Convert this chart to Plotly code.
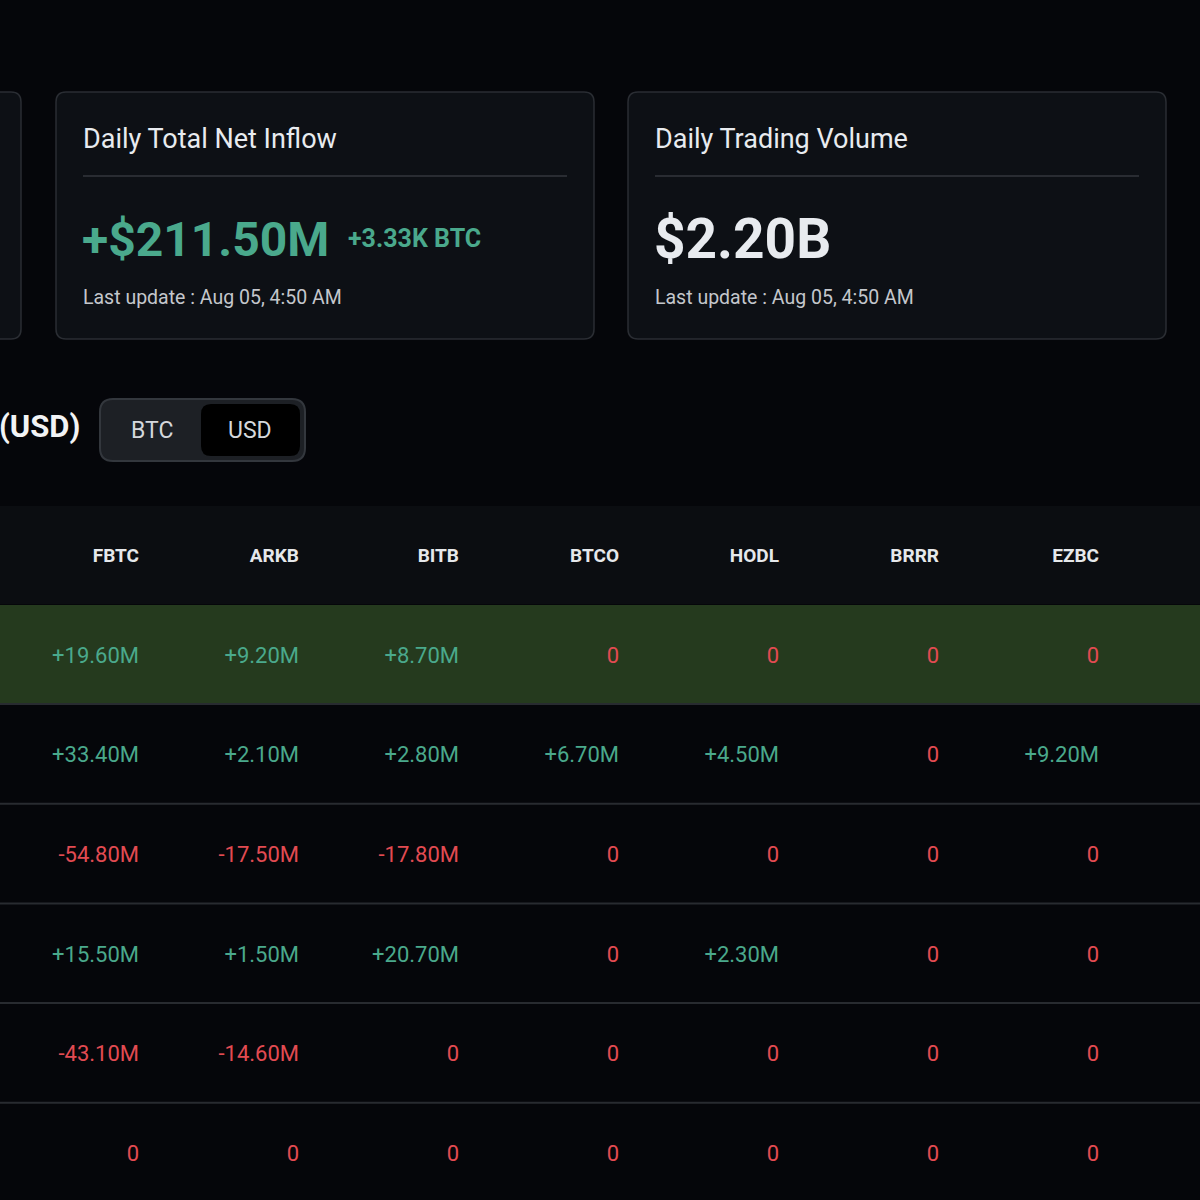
import plotly.graph_objects as go

# ETF flow table (USD, millions) - one list per fund, rows top to bottom
ETFS = ["FBTC", "ARKB", "BITB", "BTCO", "HODL", "BRRR", "EZBC"]
FBTC = [19.6, 33.4, -54.8, 15.5, -43.1, 0]
ARKB = [9.2, 2.1, -17.5, 1.5, -14.6, 0]
BITB = [8.7, 2.8, -17.8, 20.7, 0, 0]
BTCO = [0, 6.7, 0, 0, 0, 0]
HODL = [0, 4.5, 0, 2.3, 0, 0]
BRRR = [0, 0, 0, 0, 0, 0]
EZBC = [0, 9.2, 0, 0, 0, 0]
COLUMNS = [FBTC, ARKB, BITB, BTCO, HODL, BRRR, EZBC]

# summary cards
CARD_TITLES = ["Daily Total Net Inflow", "Daily Trading Volume"]
CARD_VALUES = ["+$211.50M", "$2.20B"]
CARD_SUB = ["+3.33K BTC", ""]
LAST_UPDATE = "Last update : Aug 05, 4:50 AM"

UNITS = ["BTC", "USD"]

BG = "#05060a"
CARD_BG = "#0d1015"
CARD_LINE = "#2a2d33"
GREEN = "#4aa98c"
RED = "#e24b52"
WHITE = "#e8ebef"
GREY = "#c4c7cc"
FONT = "Roboto, sans-serif"

W = H = 1200


def px(x):
    return x / W


def py(y):
    return 1 - y / H


def rr(x0, y0, x1, y1, r):
    # rounded rectangle path in paper coords, inputs in pixels
    a, b, c, d = px(x0), py(y0), px(x1), py(y1)
    rx, ry = r / W, r / H
    return (f"M {a+rx},{b} L {c-rx},{b} Q {c},{b} {c},{b-ry} "
            f"L {c},{d+ry} Q {c},{d} {c-rx},{d} L {a+rx},{d} "
            f"Q {a},{d} {a},{d+ry} L {a},{b-ry} Q {a},{b} {a+rx},{b} Z")


def fmt(v):
    if v > 0:
        return f"+{v:.2f}M"
    if v < 0:
        return f"{v:.2f}M"
    return "0"


fig = go.Figure()

shapes = []
annotations = []

# partial card on the left edge
shapes.append(dict(type="path", xref="paper", yref="paper", path=rr(-40, 92, 21, 339, 10),
                   fillcolor=CARD_BG, line=dict(color=CARD_LINE, width=1.5), layer="below"))

card_x = [56, 628]
big_sizes = [48, 55]
for k, x0 in enumerate(card_x):
    shapes.append(dict(type="path", xref="paper", yref="paper", path=rr(x0, 92, x0 + 538, 339, 10),
                       fillcolor=CARD_BG, line=dict(color=CARD_LINE, width=1.5), layer="below"))
    shapes.append(dict(type="line", xref="paper", yref="paper",
                       x0=px(x0 + 27), x1=px(x0 + 511), y0=py(176), y1=py(176),
                       line=dict(color="#33363c", width=1.5)))
    annotations.append(dict(x=px(x0 + 25), y=py(139), xref="paper", yref="paper",
                            text=CARD_TITLES[k], showarrow=False, xanchor="left", yanchor="middle",
                            font=dict(family=FONT, size=27, color=WHITE)))
    big_color = GREEN if CARD_VALUES[k].startswith("+") else WHITE
    annotations.append(dict(x=px(x0 + 24), y=py(239), xref="paper", yref="paper",
                            text="<b>" + CARD_VALUES[k] + "</b>", showarrow=False,
                            xanchor="left", yanchor="middle",
                            font=dict(family=FONT, size=big_sizes[k], color=big_color)))
    if CARD_SUB[k]:
        annotations.append(dict(x=px(x0 + 290), y=py(238), xref="paper", yref="paper",
                                text="<b>" + CARD_SUB[k] + "</b>", showarrow=False,
                                xanchor="left", yanchor="middle",
                                font=dict(family=FONT, size=25, color=GREEN)))
    annotations.append(dict(x=px(x0 + 25), y=py(297), xref="paper", yref="paper",
                            text=LAST_UPDATE, showarrow=False, xanchor="left", yanchor="middle",
                            font=dict(family=FONT, size=19.5, color=GREY)))

# section title (cut at left edge) and unit toggle
annotations.append(dict(x=px(82), y=py(426), xref="paper", yref="paper",
                        text="<b>(USD)</b>", showarrow=False, xanchor="right", yanchor="middle",
                        font=dict(family=FONT, size=31, color="#f2f3f5")))
shapes.append(dict(type="path", xref="paper", yref="paper", path=rr(100, 399, 305, 461, 13),
                   fillcolor="#1d2025", line=dict(color="#33373d", width=2)))
shapes.append(dict(type="path", xref="paper", yref="paper", path=rr(201, 404, 300, 456, 10),
                   fillcolor="#000000", line=dict(width=0)))
for k, cx in enumerate([152, 250]):
    annotations.append(dict(x=px(cx), y=py(431), xref="paper", yref="paper",
                            text=UNITS[k], showarrow=False, xanchor="center", yanchor="middle",
                            font=dict(family=FONT, size=23, color="#d5d8dc")))

# table bands
shapes.append(dict(type="rect", xref="paper", yref="paper", x0=0, x1=1, y0=py(604), y1=py(506),
                   fillcolor="#0b0d11", line=dict(width=0), layer="below"))
shapes.append(dict(type="rect", xref="paper", yref="paper", x0=0, x1=1, y0=py(704), y1=py(605),
                   fillcolor="#253a1e", line=dict(width=0), layer="below"))
for j in range(len(FBTC) - 1):
    yy = 704 + 99.7 * j
    shapes.append(dict(type="line", xref="paper", yref="paper", x0=0, x1=1,
                       y0=py(yy), y1=py(yy), line=dict(color="#282b30", width=2)))

# header labels
fig.add_trace(go.Scatter(
    x=list(range(len(ETFS))), y=[-1] * len(ETFS), mode="text",
    text=["<b>" + e + "</b>" for e in ETFS], textposition="middle left",
    textfont=dict(family=FONT, size=19, color="#e6e8eb"),
    hoverinfo="skip", showlegend=False))

# table cells
xs, ys, txt, cols = [], [], [], []
for i, col in enumerate(COLUMNS):
    for j, v in enumerate(col):
        xs.append(i)
        ys.append(j)
        txt.append(fmt(v))
        cols.append(GREEN if v > 0 else RED)
fig.add_trace(go.Scatter(
    x=xs, y=ys, mode="text", text=txt, textposition="middle left",
    textfont=dict(family=FONT, size=22, color=cols),
    hoverinfo="skip", showlegend=False))

# column i right edge at 139 + 160*i px, row j centre at 657 + 99.7*j px
x_first, x_step = 139, 160
y_first, y_step = 657, 99.7
fig.update_layout(
    width=W, height=H,
    margin=dict(l=0, r=0, t=0, b=0),
    paper_bgcolor=BG, plot_bgcolor="rgba(0,0,0,0)",
    shapes=shapes, annotations=annotations,
    xaxis=dict(range=[-x_first / x_step, (W - x_first) / x_step], visible=False, fixedrange=True),
    yaxis=dict(range=[(H - y_first) / y_step, -y_first / y_step], visible=False, fixedrange=True),
)

fig.write_html("out.html", config={"displayModeBar": False},
               post_script="document.body.style.margin='0';document.body.style.background='%s';"
                           "document.body.style.overflow='hidden';" % BG)
